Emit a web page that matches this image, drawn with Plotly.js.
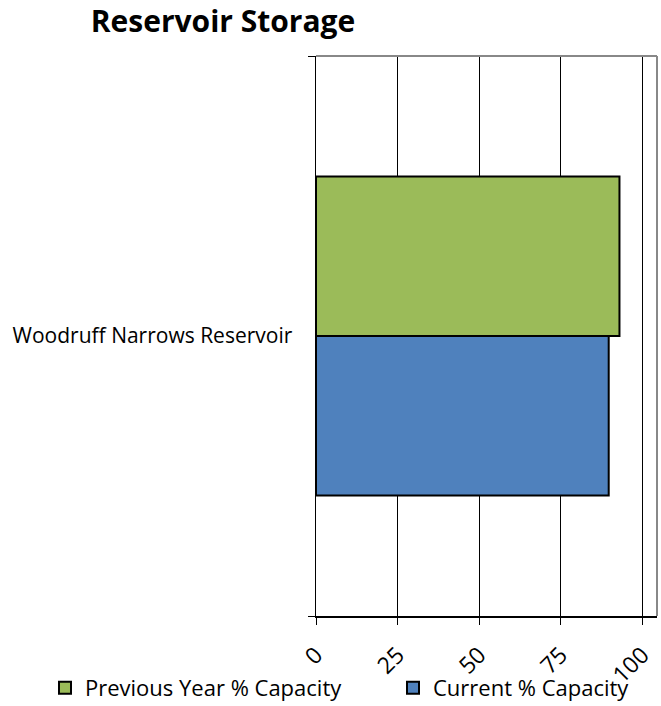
<!DOCTYPE html>
<html>
<head>
<meta charset="utf-8">
<script src="https://cdn.plot.ly/plotly-3.0.1.min.js"></script>
<style>html,body{margin:0;padding:0;background:#fff;}#chart{width:661px;height:706px;}</style>
</head>
<body>
<div id="chart"></div>
<script>
const categories = ["Woodruff Narrows Reservoir"];
const previousYear = [93];
const current = [89.7];
const xTicks = [0, 25, 50, 75, 100];
const seriesNames = ["Previous Year % Capacity", "Current % Capacity"];

const font = "Open Sans";

const traces = [
  {
    type: "bar", orientation: "h", name: seriesNames[1],
    y: categories, x: current,
    marker: {color: "#4f81bd", line: {color: "#000", width: 2}},
    legend: "legend2"
  },
  {
    type: "bar", orientation: "h", name: seriesNames[0],
    y: categories, x: previousYear,
    marker: {color: "#9bbb59", line: {color: "#000", width: 2}},
    legend: "legend"
  }
];

const legendBase = {
  orientation: "h", xref: "container", yref: "container",
  xanchor: "left", y: 1 - 688/706, yanchor: "middle",
  font: {size: 22, family: font, color: "#000"}, bgcolor: "rgba(0,0,0,0)"
};

const layout = {
  width: 661, height: 706,
  margin: {l: 316, r: 4, t: 56, b: 90},
  paper_bgcolor: "#fff", plot_bgcolor: "#fff",
  font: {family: font, color: "#000"},
  barmode: "group", bargap: 0.43, bargroupgap: 0,
  title: {text: "<b>Reservoir Storage</b>", font: {size: 30, family: font, color: "#000"},
          x: 223/661, xanchor: "center", xref: "container", y: 1 - 21/706, yanchor: "middle", yref: "container"},
  xaxis: {
    range: [0, 104.5], tickvals: xTicks, ticktext: xTicks.map(String),
    tickangle: -45, ticks: "outside", ticklen: 7, tickcolor: "#000",
    showgrid: true, gridcolor: "#000", gridwidth: 1,
    showline: true, linecolor: "#000", linewidth: 1.5,
    zeroline: false, tickfont: {size: 23, family: font}, ticklabelstandoff: 8, fixedrange: true
  },
  yaxis: {
    type: "category", tickson: "boundaries", ticks: "outside", ticklen: 7, tickcolor: "#000",
    showline: true, linecolor: "#000", linewidth: 1.5, showgrid: false,
    tickfont: {size: 21, family: font}, ticklabelstandoff: 18
  },
  shapes: [
    {type: "line", xref: "paper", yref: "paper", x0: 0, x1: 1, y0: 1, y1: 1, line: {color: "#888", width: 2}},
    {type: "line", xref: "paper", yref: "paper", x0: 1, x1: 1, y0: 0, y1: 1, line: {color: "#888", width: 2}}
  ],
  showlegend: true,
  legend: Object.assign({}, legendBase, {x: 45/661}),
  legend2: Object.assign({}, legendBase, {x: 393/661})
};

Plotly.newPlot("chart", traces, layout, {displayModeBar: false, staticPlot: true});
</script>
</body>
</html>
